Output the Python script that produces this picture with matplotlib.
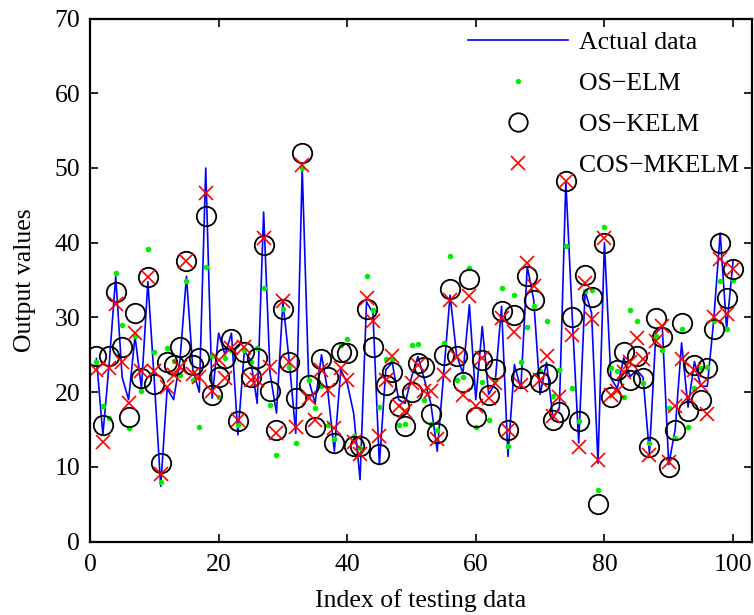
import matplotlib
matplotlib.use("Agg")
import matplotlib.pyplot as plt
import numpy as np

plt.rcParams['font.family'] = ['Liberation Serif', 'DejaVu Serif']
plt.rcParams['mathtext.fontset'] = 'stix'

index = np.arange(1, 101)

actual = [24.5, 14.3, 24.0, 35.5, 22.0, 19.0, 27.5, 20.5, 34.8, 21.5,
          7.4, 20.5, 19.0, 24.3, 35.5, 23.0, 20.0, 50.0, 19.2, 27.9,
          25.0, 27.9, 14.3, 25.5, 24.3, 18.5, 44.1, 22.5, 17.2, 32.1,
          24.0, 14.5, 50.0, 21.7, 18.5, 25.0, 20.0, 12.1, 23.0, 21.2,
          17.2, 8.3, 32.1, 30.6, 10.3, 23.0, 24.0, 19.0, 18.5, 22.0,
          24.8, 21.7, 18.5, 12.1, 22.4, 33.0, 25.0, 22.5, 31.7, 19.0,
          28.8, 19.7, 21.2, 31.5, 11.4, 23.7, 20.5, 36.8, 32.4, 19.7,
          24.0, 16.5, 18.0, 48.2, 30.0, 13.2, 33.5, 30.6, 10.5, 40.0,
          21.9, 20.5, 24.6, 22.1, 23.0, 22.0, 11.8, 27.9, 28.8, 10.3,
          15.0, 26.6, 18.0, 24.1, 20.8, 20.8, 29.7, 41.3, 28.5, 37.5]

os_elm = [24.1, 18.1, 16.5, 35.9, 29.0, 15.2, 27.5, 20.1, 39.2, 25.4,
          8.0, 25.9, 24.2, 22.3, 34.9, 21.7, 15.3, 36.7, 24.8, 19.4,
          24.6, 25.7, 15.6, 25.7, 24.1, 25.9, 33.9, 18.3, 11.6, 31.2,
          23.4, 13.2, 50.0, 21.7, 17.9, 20.8, 15.6, 13.8, 26.3, 27.1,
          14.1, 12.5, 35.6, 31.0, 18.0, 24.4, 24.3, 15.6, 15.8, 26.3,
          26.5, 19.0, 15.8, 15.0, 26.6, 38.2, 21.7, 22.1, 36.6, 15.4,
          21.3, 16.3, 21.7, 33.9, 12.8, 33.0, 24.1, 28.7, 31.5, 22.8,
          29.5, 19.5, 23.0, 39.6, 20.5, 16.1, 33.5, 33.7, 6.9, 42.1,
          23.2, 22.9, 19.3, 31.0, 29.5, 21.2, 13.2, 27.5, 25.7, 17.9,
          13.9, 28.5, 15.4, 20.5, 23.3, 23.4, 29.5, 34.9, 28.5, 35.0]

os_kelm = [24.9, 15.6, 24.8, 33.4, 26.1, 16.7, 30.6, 21.9, 35.4, 21.1,
           10.5, 24.0, 23.7, 26.0, 37.6, 23.7, 24.6, 43.6, 19.6, 22.0,
           24.6, 27.1, 16.1, 25.4, 22.0, 24.6, 39.7, 20.2, 15.0, 31.2,
           24.1, 19.2, 52.0, 21.0, 15.3, 24.4, 22.1, 13.2, 25.4, 25.2,
           12.8, 12.8, 31.2, 26.1, 11.8, 21.0, 22.7, 18.2, 15.5, 20.0,
           23.9, 23.4, 17.1, 14.6, 25.0, 33.8, 24.8, 21.3, 35.1, 16.7,
           24.3, 19.6, 23.1, 30.8, 15.0, 30.3, 21.9, 35.6, 32.4, 21.3,
           22.5, 16.3, 17.4, 48.2, 30.1, 16.1, 35.7, 32.7, 5.1, 39.9,
           19.3, 23.0, 25.4, 21.7, 24.8, 21.9, 12.7, 29.9, 27.4, 10.0,
           14.9, 29.3, 17.5, 23.6, 19.0, 23.3, 28.5, 39.9, 32.6, 36.5]

cos_mkelm = [23.0, 13.3, 23.2, 31.8, 24.1, 18.5, 27.9, 22.8, 35.4, 22.8,
             9.0, 20.7, 22.3, 23.4, 37.6, 22.5, 22.1, 46.6, 20.1, 24.3,
             21.9, 25.9, 16.3, 26.1, 21.7, 21.7, 40.6, 23.4, 14.5, 32.2,
             24.0, 15.4, 50.4, 19.2, 16.3, 23.0, 20.3, 15.2, 23.2, 21.7,
             13.4, 11.8, 32.6, 29.5, 14.2, 21.7, 24.8, 18.2, 17.5, 21.2,
             23.7, 20.1, 20.2, 13.7, 22.3, 32.3, 24.7, 19.6, 32.9, 18.2,
             24.6, 19.2, 21.2, 29.9, 14.9, 28.1, 21.0, 37.3, 34.2, 21.7,
             24.9, 16.8, 19.3, 48.2, 27.7, 12.7, 34.6, 29.8, 10.9, 40.6,
             19.6, 20.1, 22.7, 24.1, 27.3, 24.4, 11.6, 26.8, 28.9, 10.7,
             18.1, 24.4, 19.4, 23.0, 21.0, 17.1, 30.1, 37.8, 30.5, 36.5]

labels = ['Actual data', 'OS\u2212ELM', 'OS\u2212KELM', 'COS\u2212MKELM']

fs = 18.5

fig = plt.figure(figsize=(7.54, 6.15), dpi=100)
ax = fig.add_axes([90/754, 73.3/615, 662/754, 523.2/615])

ax.plot(index, actual, color='#0000ff', lw=1.2, label=labels[0])
ax.plot(index, os_elm, ls='none', marker='o', ms=4, color='#00ee00',
        mec='none', label=labels[1])
ax.plot(index, os_kelm, ls='none', marker='o', ms=14, mfc='none',
        mec='black', mew=1.3, label=labels[2])
ax.plot(index, cos_mkelm, ls='none', marker='x', ms=10, color='#ff0000',
        mew=1.2, label=labels[3])

ax.set_xlim(0, 102.95)
ax.set_ylim(0, 70)
ax.set_xticks(np.arange(0, 101, 20))
ax.set_yticks(np.arange(0, 71, 10))
ax.tick_params(direction='in', top=True, right=True, length=6, width=1.2,
               labelsize=fs)
ax.tick_params(axis='x', pad=9)
ax.tick_params(axis='y', pad=7)
for s in ax.spines.values():
    s.set_linewidth(1.6)

ax.set_xlabel('Index of testing data', fontsize=fs, labelpad=9)
ax.set_ylabel('Output values', fontsize=fs, labelpad=13)

leg = ax.legend(loc='upper left', bbox_to_anchor=(468/754, 1 - 31/615),
                bbox_transform=fig.transFigure, frameon=False, fontsize=fs,
                handlelength=3.9, handletextpad=0.43, labelspacing=0.7,
                borderaxespad=0, borderpad=0, markerscale=0.95)

fig.savefig('out.png', dpi=100)
